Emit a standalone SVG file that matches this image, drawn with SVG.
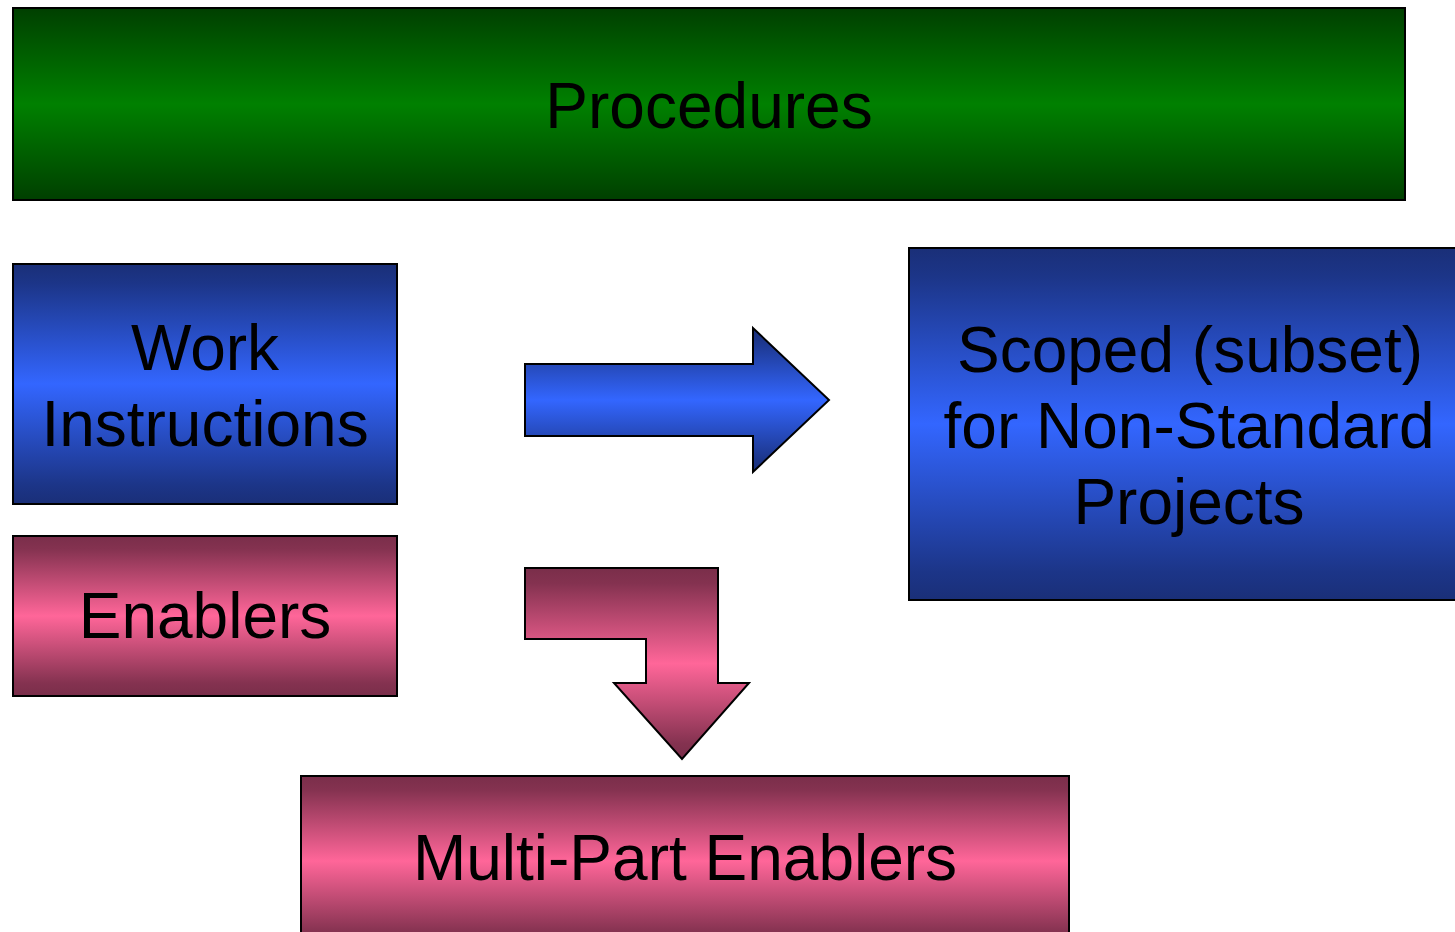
<svg xmlns="http://www.w3.org/2000/svg" width="1455" height="932" viewBox="0 0 1455 932">
<defs>
<linearGradient id="gGreen" x1="0" y1="0" x2="0" y2="1">
<stop offset="0" stop-color="#003f00"/><stop offset="0.08" stop-color="#004a00"/><stop offset="0.5" stop-color="#008000"/><stop offset="0.92" stop-color="#004a00"/><stop offset="1" stop-color="#003f00"/>
</linearGradient>
<linearGradient id="gBlue" x1="0" y1="0" x2="0" y2="1">
<stop offset="0" stop-color="#1a2f78"/><stop offset="0.08" stop-color="#1c3588"/><stop offset="0.5" stop-color="#3366ff"/><stop offset="0.92" stop-color="#1c3588"/><stop offset="1" stop-color="#1a2f78"/>
</linearGradient>
<linearGradient id="gPink" x1="0" y1="0" x2="0" y2="1">
<stop offset="0" stop-color="#7a2e4a"/><stop offset="0.08" stop-color="#843250"/><stop offset="0.5" stop-color="#ff6699"/><stop offset="0.92" stop-color="#843250"/><stop offset="1" stop-color="#7a2e4a"/>
</linearGradient>
</defs>
<style>
.box{stroke:#000;stroke-width:2}
.t{font-family:"Liberation Sans",Arial,sans-serif;font-size:64px;fill:#000;text-anchor:middle}
</style>
<rect width="1455" height="932" fill="#fff"/>
<g id="procedures">
<rect class="box" x="13" y="8" width="1392" height="192" fill="url(#gGreen)"/>
<text class="t" x="709" y="128">Procedures</text>
</g>
<g id="work-instructions">
<rect class="box" x="13" y="264" width="384" height="240" fill="url(#gBlue)"/>
<text class="t" x="205" y="370">Work</text>
<text class="t" x="205" y="446">Instructions</text>
</g>
<g id="enablers">
<rect class="box" x="13" y="536" width="384" height="160" fill="url(#gPink)"/>
<text class="t" x="205" y="638">Enablers</text>
</g>
<g id="scoped">
<rect class="box" x="909" y="248" width="560" height="352" fill="url(#gBlue)"/>
<text class="t" x="1190" y="372">Scoped (subset)</text>
<text class="t" x="1189" y="448">for Non-Standard</text>
<text class="t" x="1189" y="524">Projects</text>
</g>
<g id="multi-part-enablers">
<rect class="box" x="301" y="776" width="768" height="170" fill="url(#gPink)"/>
<text class="t" x="685" y="880">Multi-Part Enablers</text>
</g>
<g id="connectors">
<path class="box" d="M525,364 H753 V328 L829,400 L753,472 V436 H525 Z" fill="url(#gBlue)"/>
<path class="box" d="M525,568 H718 V683 H749 L682,759 L614,683 H646 V639 H525 Z" fill="url(#gPink)"/>
</g>
</svg>
